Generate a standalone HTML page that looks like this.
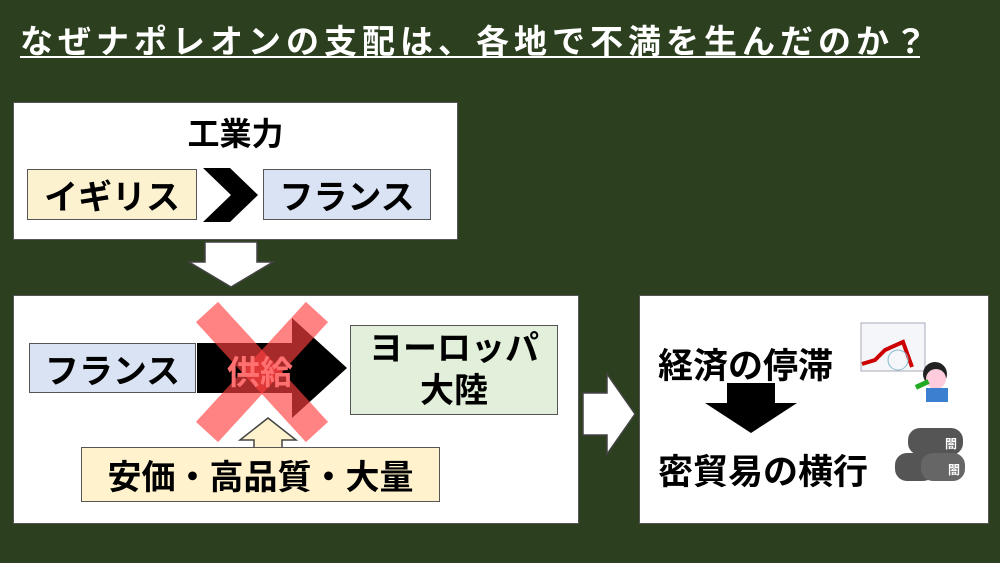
<!DOCTYPE html>
<html><head><meta charset="utf-8"><style>
body{margin:0;width:1000px;height:563px;background:#2c3f1f;position:relative;overflow:hidden;font-family:"Liberation Sans","Noto Sans CJK JP",sans-serif;font-weight:bold}
.a{position:absolute;box-sizing:border-box}
.t{display:flex;align-items:center;justify-content:center;color:#000;white-space:nowrap}
</style></head><body>
<div class="a" style="left:20px;top:15px;color:#fff;font-size:33px;white-space:nowrap;letter-spacing:5px">なぜナポレオンの支配は、各地で不満を生んだのか？</div>
<div class="a" style="left:20px;top:56px;width:900px;height:2px;background:#fff"></div>

<div class="a" style="left:13px;top:102px;width:445px;height:138px;background:#fff;border:1px solid #555"></div>
<div class="a t" style="left:13px;top:112px;width:445px;height:40px;font-size:32px">工業力</div>
<div class="a t" style="left:27px;top:169px;width:170px;height:51px;background:#fdf2d0;border:1px solid #555;font-size:34px">イギリス</div>
<svg class="a" style="left:200px;top:165px" width="62" height="60"><polygon points="3,3 30,3 58,30 30,57 3,57 31,30" fill="#000"/></svg>
<div class="a t" style="left:263px;top:169px;width:168px;height:51px;background:#dae3f3;border:1px solid #555;font-size:34px">フランス</div>

<svg class="a" style="left:185px;top:240px" width="92" height="50"><polygon points="20,2 72,2 72,22 88,22 46,47 4,22 20,22" fill="#fff" stroke="#444" stroke-width="1.5"/></svg>

<div class="a" style="left:13px;top:295px;width:566px;height:229px;background:#fff;border:1px solid #555"></div>
<div class="a t" style="left:29px;top:343px;width:167px;height:50px;background:#dae3f3;border:1px solid #555;font-size:34px">フランス</div>
<svg class="a" style="left:195px;top:315px" width="160" height="106"><polygon points="2,28 97,28 97,3 152,53 97,103 97,78 2,78" fill="#000"/></svg>
<div class="a t" style="left:350px;top:325px;width:208px;height:90px;background:#e2efda;border:1px solid #555;font-size:34px;line-height:42px;text-align:center">ヨーロッパ<br>大陸</div>
<svg class="a" style="left:195px;top:300px" width="135" height="145"><g stroke="#ff4040" stroke-opacity="0.65" stroke-width="30"><line x1="12" y1="12" x2="122" y2="132"/><line x1="122" y1="12" x2="12" y2="132"/></g></svg>
<div class="a t" style="left:205px;top:350px;width:110px;height:40px;font-size:33px;color:#ff7070">供給</div>
<svg class="a" style="left:236px;top:416px" width="64" height="34"><polygon points="32,2 60,24 46,24 46,33 18,33 18,24 4,24" fill="#fff2cc" stroke="#444" stroke-width="1.5"/></svg>
<div class="a t" style="left:81px;top:447px;width:359px;height:55px;background:#fff2cc;border:1px solid #555;font-size:34px">安価・高品質・大量</div>

<svg class="a" style="left:581px;top:371px" width="58" height="86"><polygon points="2,22 26,22 26,3 54,43 26,83 26,64 2,64" fill="#fff" stroke="#444" stroke-width="1.5"/></svg>

<div class="a" style="left:639px;top:295px;width:350px;height:229px;background:#fff;border:1px solid #555"></div>
<div class="a" style="left:658px;top:338px;font-size:35px;white-space:nowrap">経済の停滞</div>
<svg class="a" style="left:703px;top:381px" width="96" height="54"><polygon points="24,2 72,2 72,22 94,22 48,52 2,22 24,22" fill="#000"/></svg>
<div class="a" style="left:658px;top:444px;font-size:35px;white-space:nowrap">密貿易の横行</div>
<svg class="a" style="left:860px;top:322px" width="100" height="85"><rect x="1" y="1" width="64" height="48" fill="#f4f6fa" stroke="#aab"/><polyline points="2,42 15,38 25,28 43,20 52,45" fill="none" stroke="#c00" stroke-width="4"/><circle cx="38" cy="38" r="10" fill="none" stroke="#8bc"/><circle cx="75" cy="52" r="12" fill="#222"/><circle cx="76" cy="57" r="10" fill="#fcd"/><rect x="66" y="66" width="22" height="14" fill="#3a7fd0"/><rect x="55" y="60" width="14" height="5" fill="#2a2" transform="rotate(-25 62 62)"/></svg>
<svg class="a" style="left:893px;top:425px" width="75" height="60"><rect x="15" y="3" width="55" height="27" rx="12" fill="#555"/><rect x="2" y="28" width="40" height="28" rx="12" fill="#555"/><rect x="28" y="28" width="44" height="28" rx="12" fill="#666"/><text x="52" y="23" font-size="12" fill="#fff">闇</text><text x="55" y="49" font-size="12" fill="#fff">闇</text></svg>
</body></html>
